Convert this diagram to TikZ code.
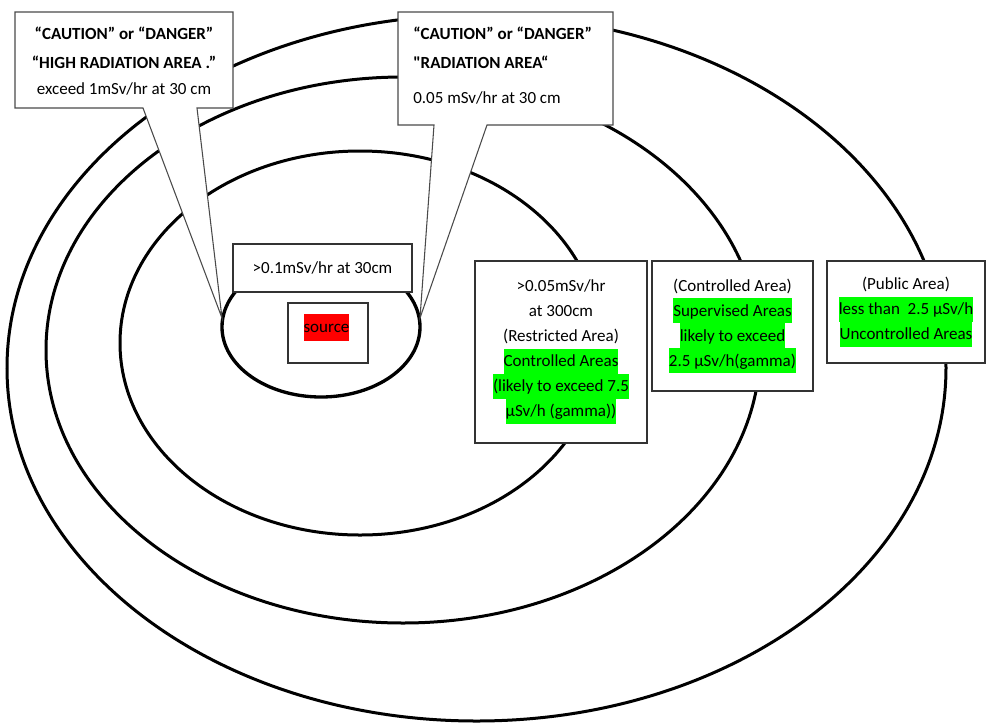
\documentclass[tikz,border=0pt]{standalone}
\usepackage{fontspec}
\setmainfont{Carlito}[Ligatures=TeXOff]
\definecolor{hlgreen}{HTML}{00FF00}
\definecolor{hlred}{HTML}{FF0000}
\definecolor{boxgray}{HTML}{333333}
\definecolor{calgray}{HTML}{4A4A4A}
\newcommand{\areafont}{\fontsize{12.75pt}{18.75pt}\selectfont}
\newcommand{\calfont}{\fontsize{12.75pt}{19.5pt}\selectfont}
\newcommand{\hlg}[1]{{\setlength{\fboxsep}{0pt}\colorbox{hlgreen}{\rule[-5.4pt]{0pt}{18.75pt}#1}}}
\newcommand{\hlr}[1]{{\setlength{\fboxsep}{0pt}\colorbox{hlred}{\rule[-6pt]{0pt}{20.25pt}#1}}}
\begin{document}
\begin{tikzpicture}[x=0.75pt,y=-0.75pt,
  ring/.style={draw=black,line width=2.25pt},
  areabox/.style={draw=boxgray,line width=1.1pt,fill=white,align=center,inner sep=0pt,font=\areafont},
  callout/.style={draw=calgray,line width=0.8pt,fill=white,line join=miter},
  ctext/.style={inner sep=0pt,font=\calfont}]
\useasboundingbox (0,0) rectangle (986,722);
\fill[white] (0,0) rectangle (986,722);
% rings
\draw[ring] (476.5,368) ellipse [x radius=352.125pt, y radius=264.75pt];
\draw[ring] (403,350) ellipse [x radius=267.75pt, y radius=204.75pt];
\draw[ring] (360,343) ellipse [x radius=180pt, y radius=144pt];
\draw[ring,line width=2.5pt] (321,327) ellipse [x radius=74.25pt, y radius=52.5pt];
% area boxes
\node[areabox,minimum width=129pt,minimum height=136.5pt] (restricted) at (561,352)
  {>0.05mSv/hr\\ at 300cm\\ (Restricted Area)\\ \hlg{Controlled Areas}\\ \hlg{(likely to exceed 7.5}\\ \hlg{µSv/h (gamma))}};
\node[areabox,minimum width=120.75pt,minimum height=97.5pt] (controlled) at (732.5,326)
  {(Controlled Area)\\ \hlg{Supervised Areas}\\ \hlg{likely to exceed}\\ \hlg{2.5 µSv/h(gamma)}};
\node[areabox,minimum width=118.5pt,minimum height=76.5pt] (public) at (906,312)
  {(Public Area)\\ \hlg{less than\ \ 2.5 µSv/h}\\ \hlg{Uncontrolled Areas}};
\node[areabox,minimum width=134.25pt,minimum height=36pt] (dose) at (322.5,268) {>0.1mSv/hr at 30cm};
\node[areabox,minimum width=60pt,minimum height=45pt] (src) at (328,333) {};
\node[inner sep=0pt,font=\areafont] (srclabel) at (326.5,327) {\hlr{source}};
% callouts
\coordinate (tip1) at (222,318);
\coordinate (tip2) at (420,318);
\draw[callout] (15,12) -- (233,12) -- (233,108) -- (197,108) -- (tip1) -- (143,108) -- (15,108) -- cycle;
\draw[callout] (398,12) -- (613,12) -- (613,125) -- (487,125) -- (tip2) -- (434,125) -- (398,125) -- cycle;
\node[ctext,align=center] (cap1) at (124,61)
  {\textbf{“CAUTION” or “DANGER”}\\[2.25pt] \textbf{“HIGH RADIATION AREA .”}\\ exceed 1mSv/hr at 30 cm};
\node[ctext,align=left,anchor=west] (cap2) at (413,66)
  {\textbf{“CAUTION” or “DANGER”}\\[2.25pt] \textbf{"RADIATION AREA“}\\[6.75pt] 0.05 mSv/hr at 30 cm};
\end{tikzpicture}
\end{document}
